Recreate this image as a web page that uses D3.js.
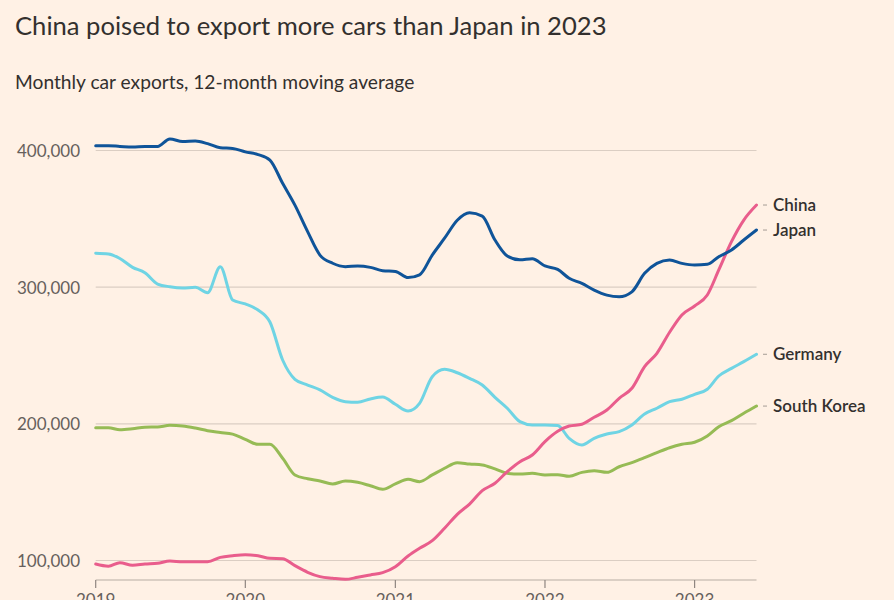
<!DOCTYPE html>
<html>
<head>
<meta charset="utf-8">
<script src="https://cdn.jsdelivr.net/npm/d3@7"></script>
<style>
  html, body { margin: 0; padding: 0; background: #FFF1E5; }
  svg { display: block; }
</style>
</head>
<body>
<svg id="chart" width="894" height="600"></svg>
<script>
const title = "China poised to export more cars than Japan in 2023";
const subtitle = "Monthly car exports, 12-month moving average";

// Monthly dates, Jan 2019 .. Jun 2023
const months = d3.timeMonths(new Date(2019, 0, 1), new Date(2023, 6, 1));

const seriesNames = ["China", "Japan", "Germany", "South Korea"];

// Values in thousands
const japan = [403.5, 403.5, 403, 402.5, 403, 403, 408.5, 406.5, 407, 405, 402, 401.5,
  399, 397, 393, 376, 360, 340.6, 323.5, 317.5, 315, 315.5, 314.5, 312,
  311.5, 307, 309, 323.5, 335.8, 349, 354.5, 352, 334.5, 322.8, 320, 320.8,
  315.5, 313, 306.5, 302.8, 297.9, 294.2, 293, 296.6, 310.1, 317.4, 319.9, 317.4,
  316.2, 316.7, 322.3, 327.2, 334.5, 341.8];

const germany = [324.8, 324.3, 321, 314.5, 310.6, 302.3, 300.3, 299.4, 299.9, 296, 315, 290.6,
  287.7, 283.3, 274.5, 246.7, 232.6, 228.4, 224.8, 219.4, 216.2, 215.8, 218.2, 219.6,
  214.3, 209.4, 215, 234.5, 239.9, 237.4, 233.3, 228.4, 219.4, 211.4, 201.6, 199.2,
  199.2, 198.7, 189.4, 184.5, 189.4, 192.6, 194.3, 199.2, 207.2, 211.4, 216.2, 218,
  221.6, 225.3, 235, 240.6, 245.5, 250.9];

const southKorea = [197.2, 197.2, 195.7, 196.4, 197.5, 197.7, 198.9, 198.4, 196.9, 195, 193.7, 192.5,
  188.7, 185, 185, 174.8, 162.6, 159.8, 158.2, 156, 158.2, 157.2, 154.7, 152.1,
  156, 159.4, 157.7, 162.6, 167.5, 171.6, 170.6, 169.9, 167, 163.8, 163.3, 163.8,
  162.6, 162.8, 161.6, 164.5, 165.7, 164.5, 168.6, 171.6, 175.2, 178.9, 182.5, 185,
  186.5, 191.1, 197.9, 202.3, 207.7, 213];

const china = [97.4, 95.8, 98.4, 96.5, 97.4, 98, 99.6, 99.1, 99.1, 99.1, 102.3, 103.5,
  104.2, 103.5, 101.6, 101.3, 96.2, 91.4, 88.2, 87, 86.2, 87.7, 89.4, 91.1,
  95.5, 103.3, 108.9, 114.5, 123.6, 133.8, 141.3, 151.1, 156.5, 165, 172.3, 177.2,
  187, 194.5, 198.4, 199.7, 204.8, 210.1, 218.7, 226, 241.8, 251.6, 267, 279.7,
  286.2, 294.3, 312.6, 333.3, 349.1, 360.1];

const yTicks = [100000, 200000, 300000, 400000];
const xTickYears = [2019, 2020, 2021, 2022, 2023];

const colors = {
  "China": "#E95D8C",
  "Japan": "#0F5499",
  "Germany": "#6FD4E4",
  "South Korea": "#96BB55"
};

const seriesData = {
  "China": china,
  "Japan": japan,
  "Germany": germany,
  "South Korea": southKorea
};

const svg = d3.select("#chart");
const W = 894, H = 600;
const FONT = "Lato, 'Noto Sans', sans-serif";

svg.append("rect").attr("width", W).attr("height", H).attr("fill", "#FFF1E5");

// Title / subtitle
svg.append("text")
  .attr("x", 15).attr("y", 35)
  .attr("font-family", FONT)
  .attr("font-size", 25.6)
  .attr("fill", "#33302E")
  .text(title);

svg.append("text")
  .attr("x", 15).attr("y", 89)
  .attr("font-family", FONT)
  .attr("font-size", 19.2)
  .attr("fill", "#33302E")
  .text(subtitle);

const plotLeft = 95.7, plotRight = 756.5, plotBottom = 580;

const x = d3.scaleTime()
  .domain([new Date(2019, 0, 1), new Date(2023, 5, 1)])
  .range([plotLeft, plotRight]);

const y = d3.scaleLinear()
  .domain([100000, 400000])
  .range([560.5, 150.5]);

// Gridlines
svg.append("g").selectAll("line")
  .data(yTicks)
  .join("line")
  .attr("x1", plotLeft).attr("x2", plotRight)
  .attr("y1", d => y(d)).attr("y2", d => y(d))
  .attr("stroke", "#DBCEC3")
  .attr("stroke-width", 1.2);

// Y labels
const yFmt = d3.format(",");
svg.append("g").selectAll("text")
  .data(yTicks)
  .join("text")
  .attr("x", 80)
  .attr("y", d => y(d) + 6.5)
  .attr("text-anchor", "end")
  .attr("font-family", FONT)
  .attr("font-size", 17)
  .attr("fill", "#66605C")
  .text(d => yFmt(d));

// X axis baseline
svg.append("line")
  .attr("x1", plotLeft).attr("x2", plotRight)
  .attr("y1", plotBottom).attr("y2", plotBottom)
  .attr("stroke", "#B8ADA4").attr("stroke-width", 1.2);

const xAxis = svg.append("g");
xAxis.selectAll("line")
  .data(xTickYears)
  .join("line")
  .attr("x1", d => x(new Date(d, 0, 1))).attr("x2", d => x(new Date(d, 0, 1)))
  .attr("y1", plotBottom).attr("y2", plotBottom + 8)
  .attr("stroke", "#8F8680").attr("stroke-width", 1.2);
xAxis.selectAll("text")
  .data(xTickYears)
  .join("text")
  .attr("x", d => x(new Date(d, 0, 1)))
  .attr("y", 606)
  .attr("text-anchor", "middle")
  .attr("font-family", FONT)
  .attr("font-size", 17)
  .attr("fill", "#66605C")
  .text(d => d);

// Lines
const line = d3.line()
  .x((d, i) => x(months[i]))
  .y(d => y(d * 1000))
  .curve(d3.curveMonotoneX);

const drawOrder = ["South Korea", "Germany", "China", "Japan"];
svg.append("g").selectAll("path")
  .data(drawOrder)
  .join("path")
  .attr("d", name => line(seriesData[name]))
  .attr("fill", "none")
  .attr("stroke", name => colors[name])
  .attr("stroke-width", 3)
  .attr("stroke-linejoin", "round")
  .attr("stroke-linecap", "round");

// End labels
const labelG = svg.append("g");
seriesNames.forEach(name => {
  const vals = seriesData[name];
  const ly = y(vals[vals.length - 1] * 1000);
  labelG.append("line")
    .attr("x1", 763).attr("x2", 767)
    .attr("y1", ly).attr("y2", ly)
    .attr("stroke", "#A59C95").attr("stroke-width", 1);
  labelG.append("text")
    .attr("x", 773).attr("y", ly + 6)
    .attr("font-family", FONT)
    .attr("font-size", 17)
    .attr("font-weight", 600)
    .attr("fill", "#33302E")
    .text(name);
});
</script>
</body>
</html>
